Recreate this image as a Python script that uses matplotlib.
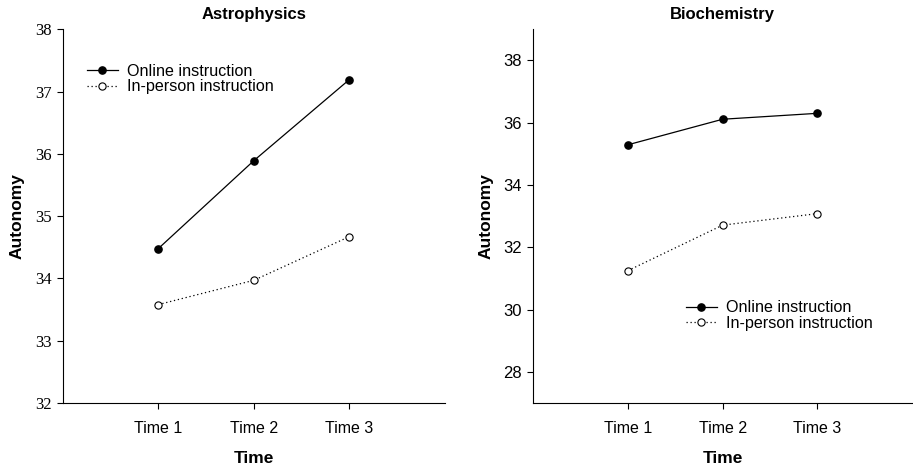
import matplotlib
matplotlib.use("Agg")
import matplotlib.pyplot as plt

times = ["Time 1", "Time 2", "Time 3"]
x = [1, 2, 3]

astro_online = [34.48, 35.89, 37.19]
astro_inperson = [33.58, 33.97, 34.67]
bio_online = [35.29, 36.11, 36.30]
bio_inperson = [31.25, 32.71, 33.08]

plt.rcParams["font.family"] = ["Liberation Sans", "DejaVu Sans"]

fig = plt.figure(figsize=(9.13, 4.69), dpi=100)
ax1 = fig.add_axes([0.069, 0.1407, 0.418, 0.797])
ax2 = fig.add_axes([0.584, 0.1407, 0.415, 0.797])


def draw(ax, online, inperson, title, ylim, yticks, tickfont, legend_pos, ylabpad):
    ax.plot(x, online, color="black", lw=0.9, marker="o", ms=5.2,
            mfc="black", mec="black", label="Online instruction")
    ax.plot(x, inperson, color="black", lw=0.9, ls=(0, (1, 2.2)), marker="o", ms=5.2,
            mfc="white", mec="black", mew=0.8, label="In-person instruction")
    ax.set_xlim(0, 4)
    ax.set_ylim(*ylim)
    ax.set_xticks(x)
    ax.set_xticklabels(times, fontsize=11.5)
    ax.set_yticks(yticks)
    ax.set_yticklabels([str(t) for t in yticks], fontsize=12, family=tickfont)
    ax.tick_params(axis="x", direction="out", length=4, width=0.8, pad=9)
    ax.tick_params(axis="y", direction="out", length=4, width=0.8, pad=4)
    for s in ["top", "right"]:
        ax.spines[s].set_visible(False)
    for s in ["left", "bottom"]:
        ax.spines[s].set_linewidth(0.8)
    ax.set_title(title, fontsize=12, fontweight="bold", pad=7)
    ax.set_xlabel("Time", fontsize=12.5, fontweight="bold", labelpad=11)
    ax.set_ylabel("Autonomy", fontsize=12.5, fontweight="bold", labelpad=ylabpad)
    ax.legend(loc="upper left", bbox_to_anchor=legend_pos, frameon=False,
              fontsize=11.6, handlelength=1.95, handletextpad=0.55,
              labelspacing=0.05, borderpad=0, borderaxespad=0)


draw(ax1, astro_online, astro_inperson, "Astrophysics", (32, 38),
     [32, 33, 34, 35, 36, 37, 38], ["Liberation Serif"], (0.062, 0.908), 8)
draw(ax2, bio_online, bio_inperson, "Biochemistry", (27, 39),
     [28, 30, 32, 34, 36, 38], ["Liberation Sans"], (0.402, 0.275), 7)

fig.savefig("out.png", dpi=100)
